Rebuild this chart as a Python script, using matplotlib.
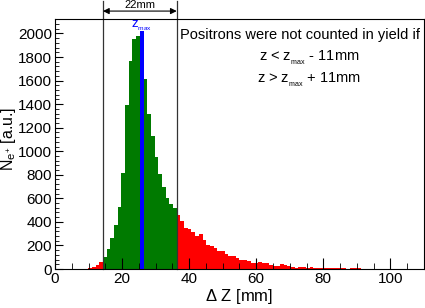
import numpy as np
import matplotlib
matplotlib.use("Agg")
import matplotlib.pyplot as plt
from matplotlib.ticker import MultipleLocator

plt.rcParams['font.family'] = ['Liberation Sans', 'DejaVu Sans']
plt.rcParams['mathtext.fontset'] = 'custom'
plt.rcParams['mathtext.rm'] = 'Liberation Sans'
plt.rcParams['mathtext.it'] = 'Liberation Sans:italic'

# histogram: 100 bins from 0 to 110 mm
bin_width = 1.1
counts = [0, 0, 0, 0, 2, 0, 0, 0, 3, 10,
          20, 35, 60, 105, 170, 260, 373, 523, 817, 1392,
          1765, 1949, 1977, 2020, 1612, 1312, 1131, 953, 803, 696,
          602, 552, 515, 458, 410, 345, 340, 317, 280, 294,
          246, 204, 198, 175, 156, 153, 127, 110, 107, 90,
          76, 76, 71, 54, 54, 57, 54, 48, 34, 28,
          28, 42, 38, 25, 20, 8, 14, 15, 12, 13,
          10, 11, 8, 6, 5, 6, 7, 5, 6, 4,
          10, 11, 8, 4, 3, 2, 1, 2, 1, 0,
          1, 0, 0, 1, 0, 0, 0, 0, 0, 0]
first_in = 13   # first bin counted
last_in = 32    # last bin counted
max_bin = 23    # z_max bin

edges = np.arange(len(counts)) * bin_width
colors = []
for i in range(len(counts)):
    if i == max_bin:
        colors.append('#0000ff')
    elif first_in <= i <= last_in:
        colors.append('#007a00')
    else:
        colors.append('#ff0000')

fig = plt.figure(figsize=(4.25, 3.08), dpi=100)
ax = fig.add_axes([0.1294, 0.1266, 0.868, 0.8107])

ax.bar(edges, counts, width=bin_width, align='edge', color=colors, linewidth=0)

ax.set_xlim(0, 110)
ax.set_ylim(0, 2120)

ax.xaxis.set_major_locator(MultipleLocator(20))
ax.xaxis.set_minor_locator(MultipleLocator(5))
ax.yaxis.set_major_locator(MultipleLocator(200))
ax.yaxis.set_minor_locator(MultipleLocator(40))
ax.tick_params(which='both', direction='in', top=False, right=False, labelsize=11)
ax.tick_params(which='major', axis='x', length=8)
ax.tick_params(which='minor', axis='x', length=4)
ax.tick_params(which='major', axis='y', length=6)
ax.tick_params(which='minor', axis='y', length=3)
ax.tick_params(axis='x', pad=2)
ax.tick_params(axis='y', pad=2)
for s in ax.spines.values():
    s.set_linewidth(0.8)

ax.set_xlabel(r'$\Delta$ Z [mm]', fontsize=12, labelpad=1)
ax.set_ylabel(r'N$_{\mathregular{e^{+}}}$ [a.u.]', fontsize=11.5)
ax.yaxis.set_label_coords(-0.099, 0.52)

# window lines around z_max
x_lo = first_in * bin_width
x_hi = (last_in + 1) * bin_width
for xv in (x_lo, x_hi):
    ax.plot([xv, xv], [0, 1.075], transform=ax.get_xaxis_transform(),
            color='#333333', lw=0.9, clip_on=False)

ax.annotate('', xy=(x_lo, 1.033), xytext=(x_hi, 1.033),
            xycoords=ax.get_xaxis_transform(), textcoords=ax.get_xaxis_transform(),
            arrowprops=dict(arrowstyle='<|-|>', color='black', lw=0.8,
                            shrinkA=0, shrinkB=0, mutation_scale=9))
ax.text((x_lo + x_hi) / 2, 1.056, '22mm', transform=ax.get_xaxis_transform(),
        ha='center', va='center', fontsize=8)

ax.text((max_bin + 0.5) * bin_width, 2065, r'z$_{_{\mathregular{max}}}$', color='#0000ff',
        ha='center', va='center', fontsize=9.5)

ax.text(73, 1985, 'Positrons were not counted in yield if', ha='center', va='center', fontsize=10.5)
ax.text(75.7, 1790, r'z < z$_{_{\mathregular{max}}}$ - 11mm', ha='center', va='center', fontsize=10.5)
ax.text(75.7, 1604, r'z > z$_{_{\mathregular{max}}}$ + 11mm', ha='center', va='center', fontsize=10.5)

fig.savefig('out.png', dpi=100)
